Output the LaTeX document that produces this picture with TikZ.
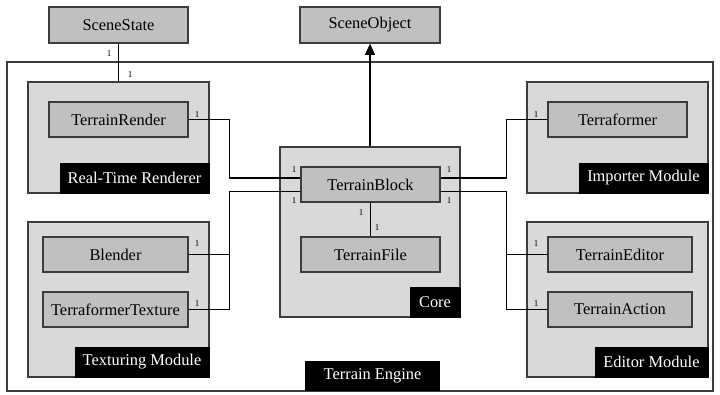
\documentclass[tikz,border=0pt]{standalone}
\usepackage{fontspec}
\setmainfont{Liberation Serif}
\usetikzlibrary{arrows.meta}
\definecolor{clsfill}{HTML}{C0C0C0}
\definecolor{modfill}{HTML}{D9D9D9}
\definecolor{edge}{HTML}{3C3C3C}
\begin{document}
\begin{tikzpicture}[x=1pt,y=-1pt,
  cls/.style={draw=edge,fill=clsfill,line width=1.6pt,minimum height=35pt,inner sep=0pt,font=\fontsize{16.4}{18}\selectfont},
  module/.style={draw=edge,fill=modfill,line width=1.4pt,inner sep=0pt},
  modlabel/.style={fill=black,text=white,minimum height=31pt,inner sep=0pt,anchor=south east,font=\fontsize{16.4}{18}\selectfont},
  conn/.style={draw=black,line width=1.2pt},
  mult/.style={inner sep=0pt,font=\fontsize{9}{9}\selectfont}]
\useasboundingbox (0,0) rectangle (720,394);
\fill[white] (0,0) rectangle (720,394);
% outer engine
\node[draw=edge,line width=1.3pt,minimum width=706pt,minimum height=329pt,inner sep=0pt] (engine) at (360,226.5) {};
\node[modlabel,anchor=south,minimum width=135pt,minimum height=30pt] (englabel) at (372.5,391) {Terrain Engine};
% modules
\node[module,minimum width=181pt,minimum height=111pt] (rtr) at (118.5,137.5) {};
\node[modlabel,minimum width=150pt] (rtrlabel) at (rtr.south east) {Real-Time Renderer};
\node[module,minimum width=181pt,minimum height=111pt] (imp) at (617.5,137.5) {};
\node[modlabel,minimum width=130pt] (implabel) at (imp.south east) {Importer Module};
\node[module,minimum width=180pt,minimum height=170pt] (core) at (370,232) {};
\node[modlabel,minimum width=51pt] (corelabel) at (core.south east) {Core};
\node[module,minimum width=181pt,minimum height=155pt] (tex) at (118.5,299.5) {};
\node[modlabel,minimum width=135pt] (texlabel) at (tex.south east) {Texturing Module};
\node[module,minimum width=181pt,minimum height=155pt] (edm) at (617.5,299.5) {};
\node[modlabel,minimum width=114pt] (edmlabel) at (edm.south east) {Editor Module};
% classes
\node[cls,minimum width=139pt,minimum height=36pt] (ss) at (118.5,25) {SceneState};
\node[cls,minimum width=140pt,minimum height=36pt] (so) at (370,25) {SceneObject};
\node[cls,minimum width=139pt] (tr) at (118.5,119.5) {TerrainRender};
\node[cls,minimum width=139pt] (tb) at (370.5,184.5) {TerrainBlock};
\node[cls,minimum width=139pt] (tf) at (370.5,254.5) {TerrainFile};
\node[cls,minimum width=139pt] (tfm) at (617.5,119.5) {Terraformer};
\node[cls,minimum width=144pt] (te) at (620,254.5) {TerrainEditor};
\node[cls,minimum width=144pt] (ta) at (620,309.5) {TerrainAction};
\node[cls,minimum width=145pt] (bl) at (115.5,254.5) {Blender};
\node[cls,minimum width=145pt] (tt) at (115.5,309.5) {TerraformerTexture};
% connectors
\draw[conn] (ss.south) -- (rtr.north);
\draw[conn,-{Triangle[width=10pt,length=11pt]}] (core.north) -- (so.south);
\draw[conn] (tb.south) -- (tf.north);
\draw[conn] (tr.east) -- ++(41,0) |- ([yshift=6.5pt]tb.west);
\draw[conn] (bl.east) -- ++(41,0) |- ([yshift=-7pt]tb.west);
\draw[conn] (tt.east) -- ++(41,0) |- ([yshift=-7pt]tb.west);
\draw[conn] ([yshift=6.5pt]tb.east) -- ++(66,0) |- (tfm.west);
\draw[conn] ([yshift=-7pt]tb.east) -- ++(66,0) |- (te.west);
\draw[conn] ([yshift=-7pt]tb.east) -- ++(66,0) |- (ta.west);
% multiplicities
\node[mult] (m1) at (109,54) {1};
\node[mult] (m2) at (130,75) {1};
\node[mult] (m3) at (197,115) {1};
\node[mult] (m4) at (294,170) {1};
\node[mult] (m5) at (294,201) {1};
\node[mult] (m6) at (449,170) {1};
\node[mult] (m7) at (449,201) {1};
\node[mult] (m8) at (361,213) {1};
\node[mult] (m9) at (377,228) {1};
\node[mult] (m10) at (536,115) {1};
\node[mult] (m11) at (536,244) {1};
\node[mult] (m12) at (536,304) {1};
\node[mult] (m13) at (197,244) {1};
\node[mult] (m14) at (197,304) {1};
\end{tikzpicture}
\end{document}
